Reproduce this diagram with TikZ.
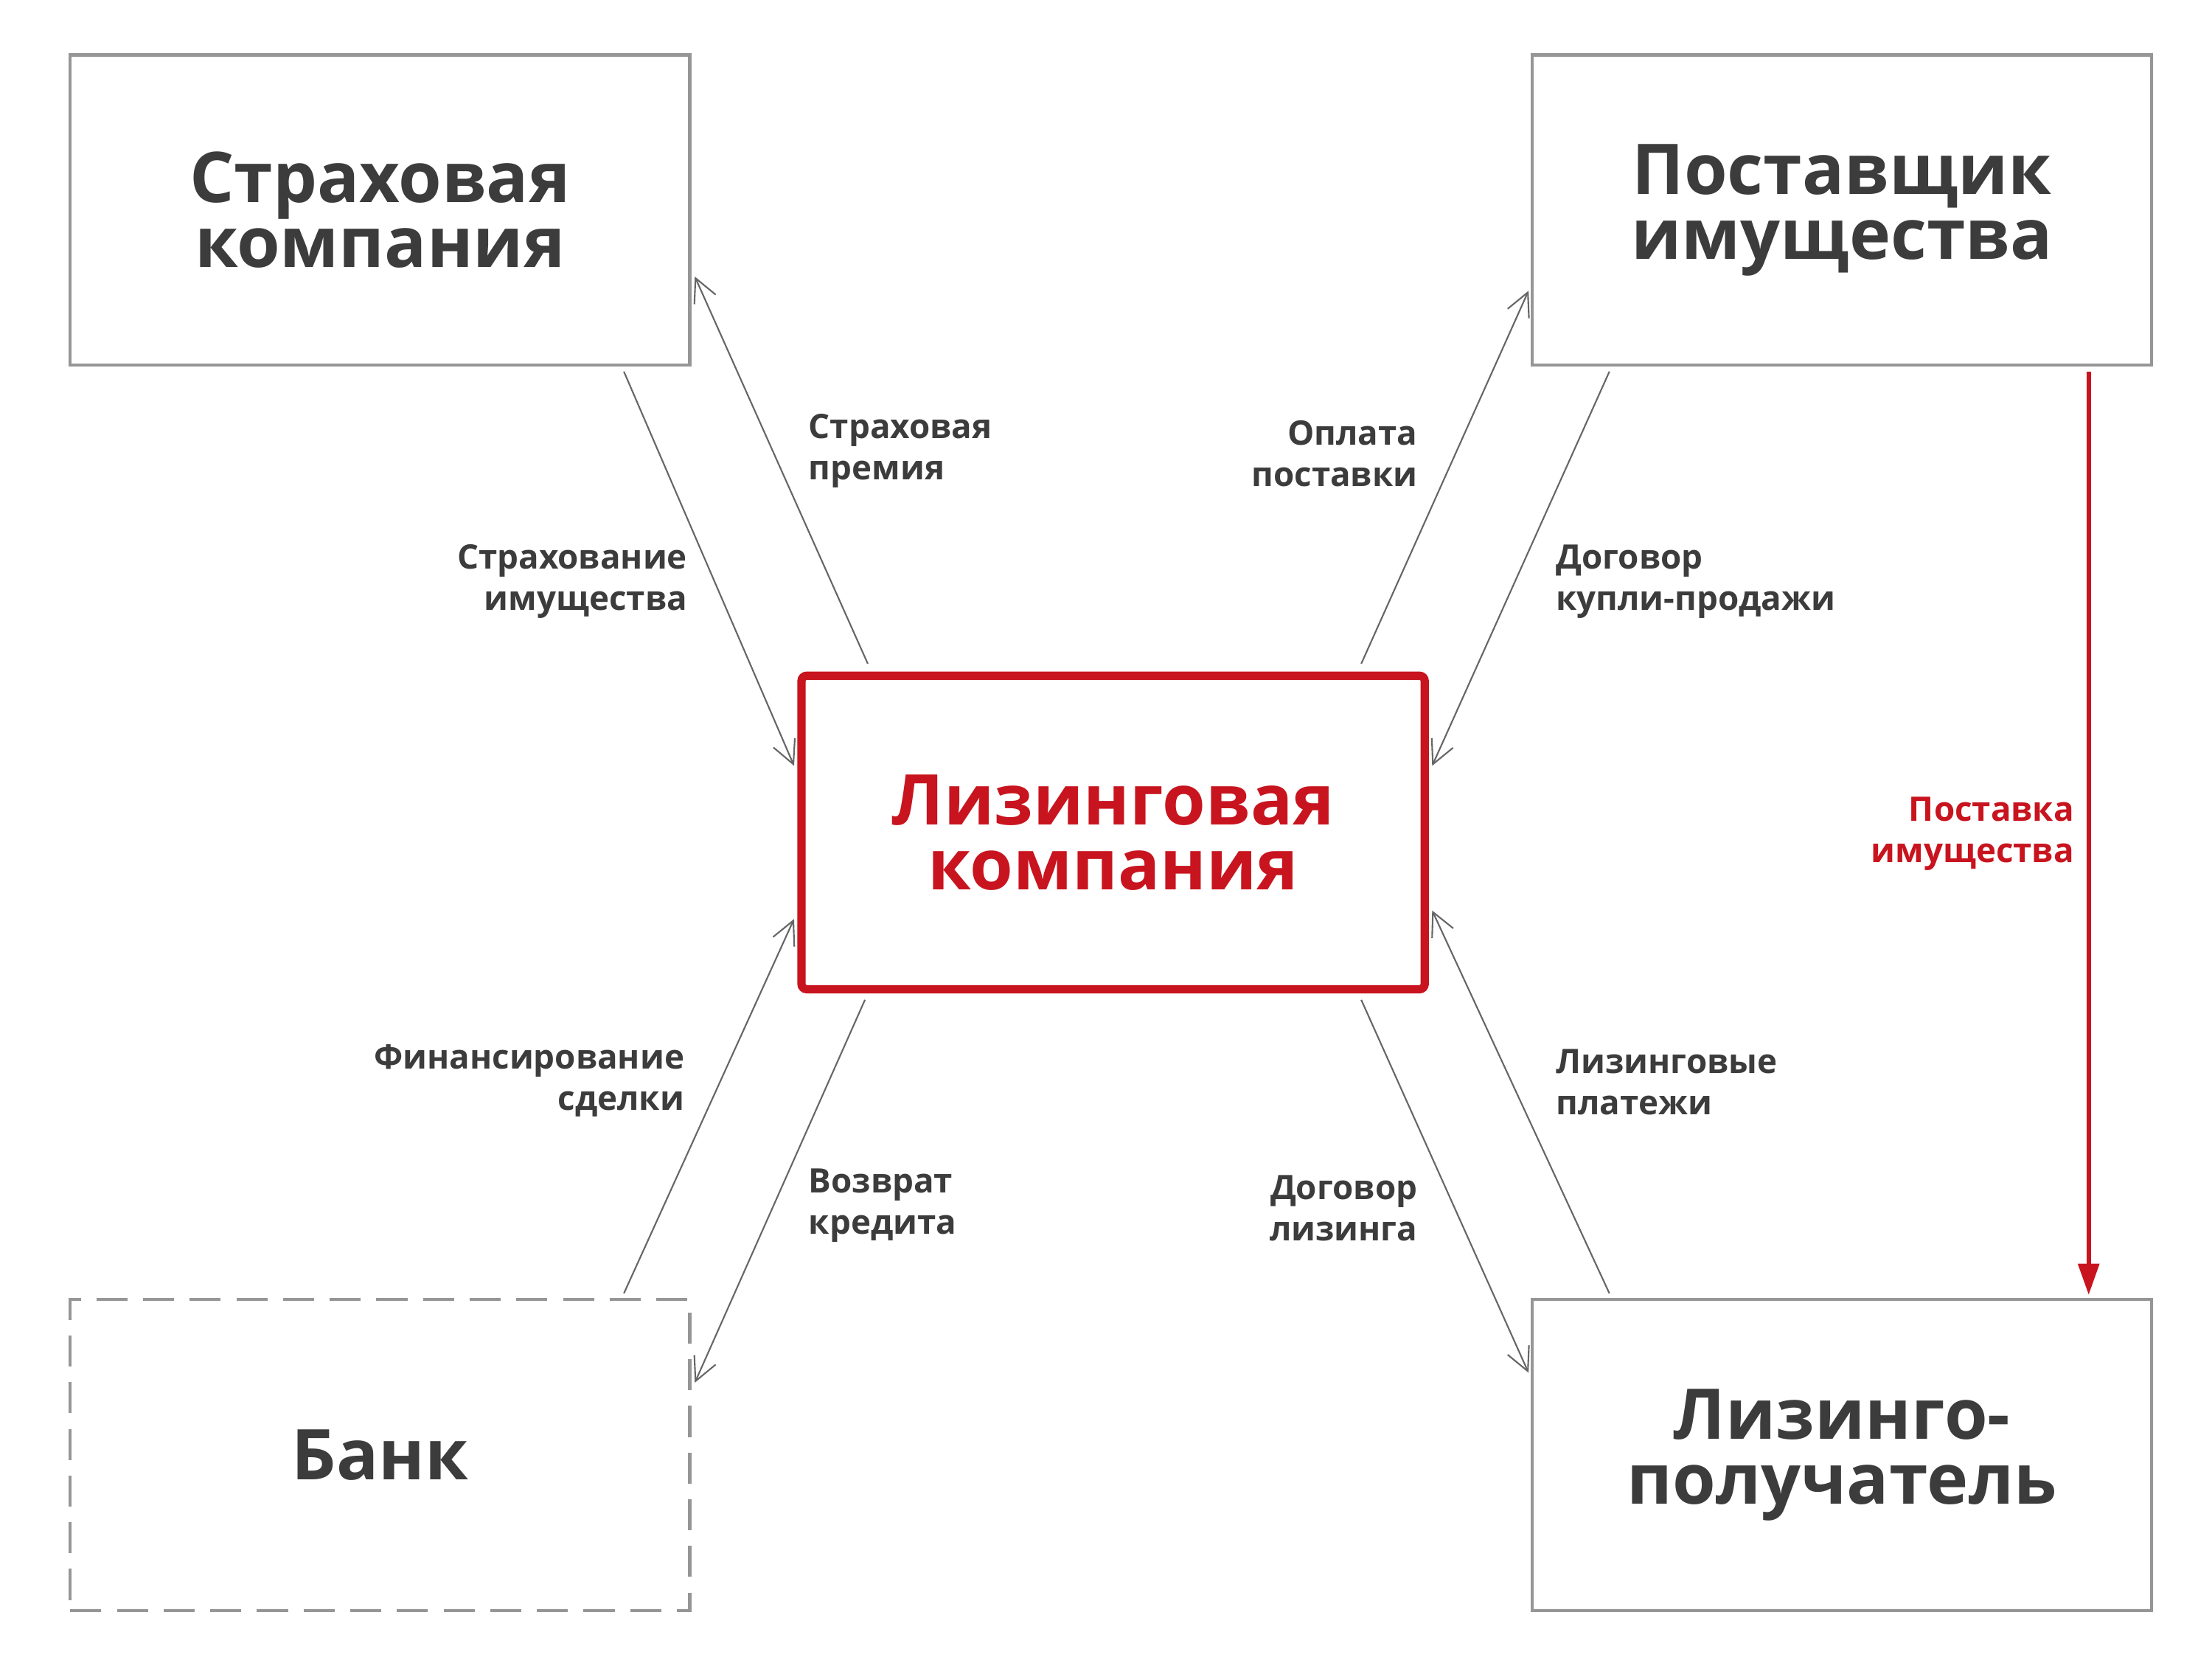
\documentclass[tikz,border=0pt]{standalone}
\usepackage{fontspec}
\setmainfont{Open Sans}
\usetikzlibrary{arrows.meta}
\definecolor{txt}{RGB}{60,60,60}
\definecolor{red1}{RGB}{200,20,30}
\definecolor{boxc}{RGB}{150,150,150}
\tikzset{
 bx/.style={draw=boxc,line width=1.2pt,text=txt,font=\fontsize{27}{25}\selectfont\bfseries,align=center,inner sep=0},
 lbl/.style={text=txt,font=\fontsize{13}{16}\selectfont\bfseries,inner sep=0},
 con/.style={draw=gray!80!black,line width=0.6pt,-{Straight Barb[length=9pt,width=9pt]}},
}
\begin{document}
\begin{tikzpicture}[x=0.01923cm,y=-0.01923cm]
\useasboundingbox (0,0) rectangle (1560,1170);
\node[bx,minimum width=8.40cm,minimum height=4.2cm] (ins) at (268,148) {Страховая\\компания};
\node[bx,minimum width=8.40cm,minimum height=4.2cm] (sup) at (1299,148) {Поставщик\\имущества};
\node[bx,dashed,dash pattern=on 12pt off 6pt,minimum width=8.40cm,minimum height=4.22cm] (bank) at (268,1026) {Банк};
\node[bx,minimum width=8.40cm,minimum height=4.22cm] (les) at (1299,1026) {Лизинго-\\получатель};
\node[bx,draw=red1,text=red1,line width=3.2pt,rounded corners=2pt,minimum width=8.45cm,minimum height=4.25cm] (lc) at (785,587) {Лизинговая\\компания};
% endpoints
\coordinate (a1) at (612,468); \coordinate (a2) at (490,195);
\coordinate (b1) at (440,262); \coordinate (b2) at (560,540);
\coordinate (c1) at (960,468); \coordinate (c2) at (1078,205);
\coordinate (d1) at (1135,262); \coordinate (d2) at (1010,540);
\coordinate (e1) at (440,912); \coordinate (e2) at (560,648);
\coordinate (f1) at (610,705); \coordinate (f2) at (490,975);
\coordinate (g1) at (960,705); \coordinate (g2) at (1078,968);
\coordinate (h1) at (1135,912); \coordinate (h2) at (1010,642);
\coordinate (r1) at (1473,262); \coordinate (r2) at (1473,913);
\draw[con] (a1) -- (a2);
\draw[con] (b1) -- (b2);
\draw[con] (c1) -- (c2);
\draw[con] (d1) -- (d2);
\draw[con] (e1) -- (e2);
\draw[con] (f1) -- (f2);
\draw[con] (g1) -- (g2);
\draw[con] (h1) -- (h2);
\draw[red1,line width=1.6pt,-{Triangle[length=12pt,width=8pt]}] (r1) -- (r2);
% labels
\node[lbl,align=left,anchor=west] (la) at (570,318) {Страховая\\премия};
\node[lbl,align=right,anchor=east] (lb) at (485,410) {Страхование\\имущества};
\node[lbl,align=right,anchor=east] (lc2) at (1000,320) {Оплата\\поставки};
\node[lbl,align=left,anchor=west] (ld) at (1097,410) {Договор\\купли-продажи};
\node[lbl,align=right,anchor=east] (le) at (483,762) {Финансирование\\сделки};
\node[lbl,align=left,anchor=west] (lf) at (570,850) {Возврат\\кредита};
\node[lbl,align=right,anchor=east] (lg) at (1000,852) {Договор\\лизинга};
\node[lbl,align=left,anchor=west] (lh) at (1097,763) {Лизинговые\\платежи};
\node[lbl,align=right,anchor=east,text=red1] (lr) at (1463,588) {Поставка\\имущества};
\end{tikzpicture}
\end{document}
